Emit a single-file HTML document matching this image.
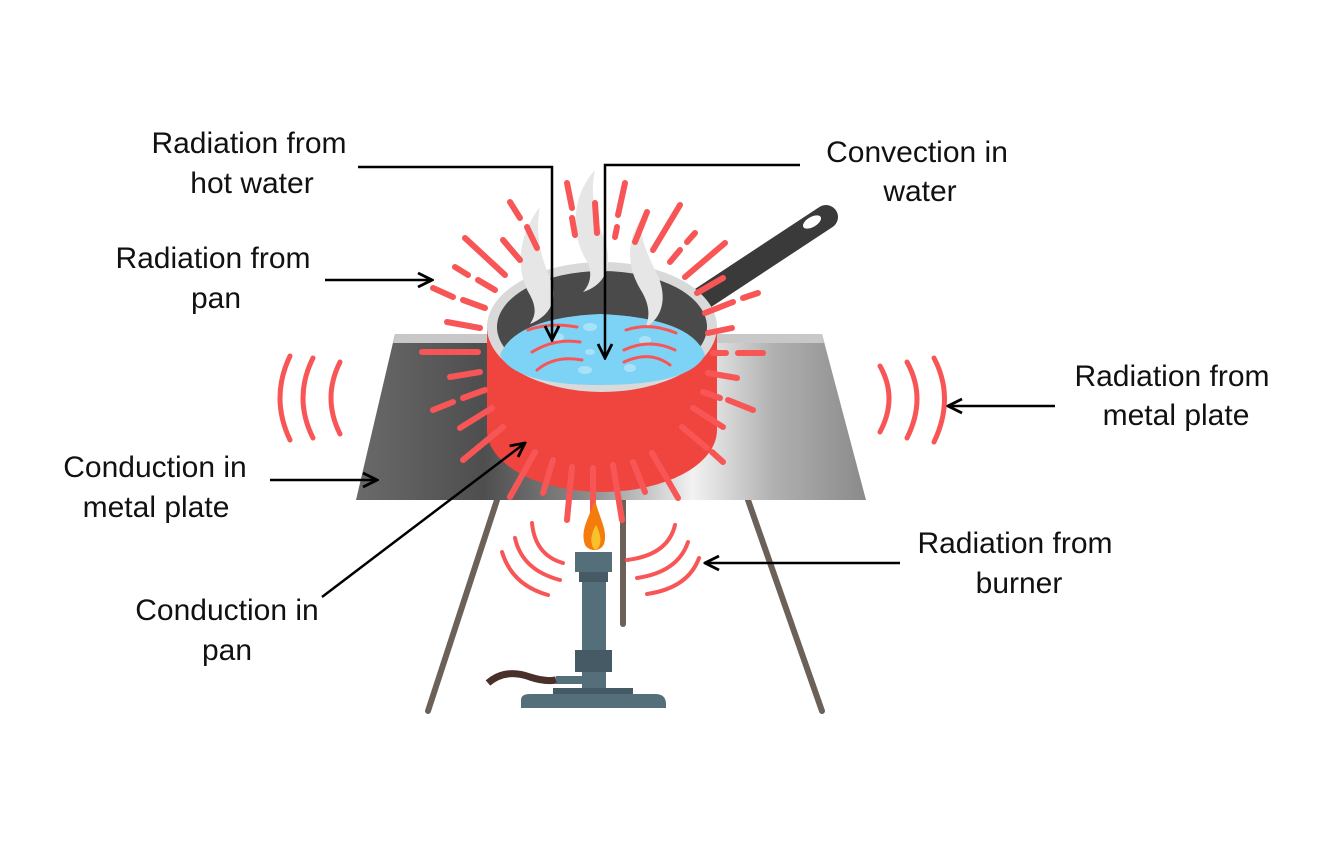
<!DOCTYPE html>
<html><head><meta charset="utf-8"><style>
html,body{margin:0;padding:0;background:#fff;width:1328px;height:843px;overflow:hidden}
svg{display:block}
text{font-family:"Liberation Sans",sans-serif;font-size:30px;fill:#111;text-anchor:middle}
</style></head><body>
<svg width="1328" height="843" viewBox="0 0 1328 843" xmlns="http://www.w3.org/2000/svg">
<defs>
<linearGradient id="pl" x1="0" x2="1" y1="0" y2="0">
<stop offset="0" stop-color="#6a6a6a"/><stop offset="0.25" stop-color="#4e4e4e"/><stop offset="0.45" stop-color="#8a8a8a"/><stop offset="0.66" stop-color="#f2f2f2"/><stop offset="0.82" stop-color="#b0b0b0"/><stop offset="1" stop-color="#8a8a8a"/>
</linearGradient>
<marker id="ah" viewBox="0 0 10 10" refX="9" refY="5" markerWidth="7" markerHeight="7" orient="auto"><path d="M1,1 L9,5 L1,9" fill="none" stroke="#000" stroke-width="1.6"/></marker>
</defs>
<g stroke="#6b6158" stroke-width="6" stroke-linecap="round">
<line x1="497" y1="500" x2="428" y2="711"/>
<line x1="623" y1="500" x2="623" y2="624"/>
<line x1="748" y1="500" x2="822" y2="711"/>
</g>
<polygon points="395,334 822,334 866,500 356,500" fill="url(#pl)"/>
<polygon points="395,334 822,334 824,343 393,343" fill="#c8c8c8"/>
<line x1="700" y1="300" x2="826" y2="217" stroke="#3a3a3a" stroke-width="24" stroke-linecap="round"/>
<ellipse cx="812" cy="222" rx="10" ry="5" fill="#fff" transform="rotate(-30 812 222)"/>
<path d="M487,327 L487,430 A115,62 0 0 0 717,430 L717,327 Z" fill="#f0453f"/>
<ellipse cx="602" cy="327" rx="115" ry="65" fill="#d9d9d9"/>
<ellipse cx="602" cy="327" rx="105" ry="56" fill="#4a4a4a"/>
<path d="M500,355 Q515,318 600,314 Q692,318 705,355 Q690,385 600,385 Q515,385 500,355 Z" fill="#7dd3f5"/>
<g fill="#a9e2f8">
<ellipse cx="557" cy="337" rx="7" ry="4"/><ellipse cx="590" cy="327" rx="7" ry="4"/><ellipse cx="585" cy="370" rx="7" ry="4"/><ellipse cx="630" cy="368" rx="6" ry="4"/><ellipse cx="645" cy="340" rx="6" ry="4"/><ellipse cx="590" cy="352" rx="5" ry="3"/>
</g>
<g fill="#e6e6e6">
<path d="M540,207 C518,235 515,270 530,295 C538,310 534,318 530,324 C552,315 558,298 550,278 C540,255 535,232 540,207 Z"/>
<path d="M595,170 C570,198 572,235 585,258 C594,272 590,285 583,292 C610,283 612,260 604,238 C594,214 590,193 595,170 Z"/>
<path d="M640,220 C625,245 628,270 642,292 C650,306 650,318 645,328 C665,316 666,295 658,276 C648,256 640,238 640,220 Z"/>
</g>
<g fill="none" stroke="#f85656" stroke-width="3" stroke-linecap="round">
<path d="M528,330 Q550,322 577,327"/><path d="M532,352 Q555,338 580,342"/><path d="M537,370 Q555,355 582,360"/>
<path d="M626,330 Q650,322 676,333"/><path d="M624,350 Q650,338 675,350"/><path d="M624,362 Q650,350 670,365"/>
</g>
<g stroke="#f85656" stroke-width="6" stroke-linecap="round">
<line x1="510" y1="202" x2="520" y2="218"/><line x1="527" y1="227" x2="537" y2="248"/>
<line x1="567" y1="183" x2="572" y2="208"/><line x1="572" y1="218" x2="575" y2="235"/>
<line x1="595" y1="203" x2="597" y2="233"/>
<line x1="625" y1="183" x2="618" y2="215"/><line x1="617" y1="227" x2="615" y2="237"/>
<line x1="647" y1="212" x2="635" y2="242"/><line x1="680" y1="205" x2="653" y2="250"/>
<line x1="695" y1="233" x2="687" y2="242"/><line x1="680" y1="250" x2="670" y2="262"/>
<line x1="725" y1="243" x2="685" y2="277"/><line x1="723" y1="278" x2="697" y2="293"/>
<line x1="758" y1="293" x2="743" y2="298"/><line x1="733" y1="302" x2="705" y2="313"/>
<line x1="732" y1="328" x2="708" y2="333"/>
<line x1="763" y1="353" x2="738" y2="353"/><line x1="726" y1="353" x2="713" y2="353"/>
<line x1="737" y1="378" x2="708" y2="373"/>
<line x1="753" y1="410" x2="728" y2="400"/><line x1="720" y1="398" x2="703" y2="392"/>
<line x1="723" y1="427" x2="693" y2="408"/>
<line x1="723" y1="462" x2="712" y2="452"/><line x1="707" y1="448" x2="682" y2="427"/>
<line x1="678" y1="498" x2="652" y2="453"/><line x1="645" y1="492" x2="633" y2="462"/>
<line x1="622" y1="520" x2="613" y2="465"/><line x1="593" y1="520" x2="593" y2="468"/>
<line x1="567" y1="520" x2="572" y2="467"/><line x1="543" y1="493" x2="553" y2="460"/>
<line x1="510" y1="497" x2="535" y2="452"/><line x1="463" y1="460" x2="503" y2="427"/>
<line x1="460" y1="428" x2="492" y2="408"/>
<line x1="433" y1="410" x2="453" y2="402"/><line x1="463" y1="398" x2="485" y2="390"/>
<line x1="450" y1="377" x2="480" y2="372"/><line x1="422" y1="352" x2="478" y2="352"/>
<line x1="447" y1="322" x2="480" y2="328"/>
<line x1="433" y1="288" x2="453" y2="297"/><line x1="463" y1="300" x2="485" y2="308"/>
<line x1="455" y1="267" x2="468" y2="275"/><line x1="478" y1="280" x2="495" y2="290"/>
<line x1="465" y1="238" x2="505" y2="275"/><line x1="503" y1="240" x2="520" y2="260"/>
</g>
<g fill="none" stroke="#f85656" stroke-width="5" stroke-linecap="round">
<path d="M290,356 Q270,398 290,440"/><path d="M313,358 Q293,398 313,438"/><path d="M340,362 Q322,398 340,434"/>
<path d="M880,366 Q898,398 880,432"/><path d="M907,362 Q927,398 907,438"/><path d="M934,358 Q955,398 934,442"/>
</g>
<g fill="none" stroke="#f85656" stroke-width="4" stroke-linecap="round">
<path d="M532,523 Q535,555 563,563"/><path d="M515,538 Q522,570 560,580"/><path d="M502,552 Q512,585 548,595"/>
<path d="M675,525 Q668,555 627,560"/><path d="M688,542 Q678,572 637,578"/><path d="M699,558 Q688,588 647,594"/>
</g>
<path d="M595,500 C588,520 580,530 585,545 C590,552 600,552 604,544 C608,530 600,520 595,500 Z" fill="#f47c0c"/>
<path d="M596,525 C590,535 590,545 595,550 C601,548 603,538 596,525 Z" fill="#f9c12b"/>
<rect x="575" y="552" width="37" height="20" fill="#546e7a"/>
<rect x="579" y="572" width="29" height="10" fill="#455a64"/>
<rect x="582" y="582" width="24" height="110" fill="#546e7a"/>
<rect x="575" y="650" width="37" height="22" fill="#455a64"/>
<rect x="556" y="676" width="30" height="8" fill="#546e7a"/>
<path d="M488,683 Q505,668 530,677 Q545,682 556,680" fill="none" stroke="#4a302a" stroke-width="7"/>
<rect x="553" y="688" width="80" height="8" fill="#455a64"/>
<path d="M521,708 L521,700 Q521,694 530,694 L655,694 Q666,694 666,704 L666,708 Z" fill="#546e7a"/>
<g stroke="#000" stroke-width="2.5" fill="none">
<polyline points="358,167 552,167 552,340" marker-end="url(#ah)"/>
<polyline points="800,165 605,165 605,358" marker-end="url(#ah)"/>
<line x1="325" y1="280" x2="432" y2="280" marker-end="url(#ah)"/>
<line x1="1055" y1="406" x2="948" y2="406" marker-end="url(#ah)"/>
<line x1="270" y1="480" x2="377" y2="480" marker-end="url(#ah)"/>
<line x1="900" y1="563" x2="705" y2="563" marker-end="url(#ah)"/>
<line x1="322" y1="597" x2="525" y2="443" marker-end="url(#ah)"/>
</g>
<text x="249" y="153">Radiation from</text><text x="252" y="193">hot water</text>
<text x="917" y="162">Convection in</text><text x="920" y="201">water</text>
<text x="213" y="268">Radiation from</text><text x="216" y="308">pan</text>
<text x="1172" y="386">Radiation from</text><text x="1176" y="425">metal plate</text>
<text x="155" y="477">Conduction in</text><text x="156" y="517">metal plate</text>
<text x="1015" y="553">Radiation from</text><text x="1019" y="593">burner</text>
<text x="227" y="620">Conduction in</text><text x="227" y="660">pan</text>
</svg>
</body></html>
